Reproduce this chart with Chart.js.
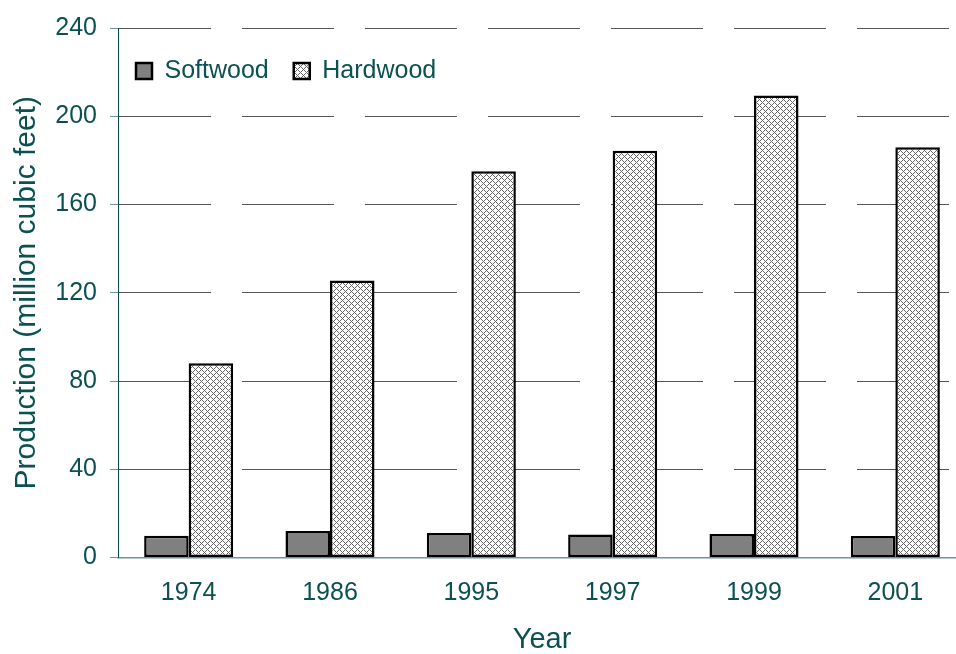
<!DOCTYPE html>
<html lang="en">
<head>
    <meta charset="UTF-8">
    <title>Softwood and hardwood production</title>
    <script src="https://cdn.jsdelivr.net/npm/chart.js"></script>
    <style>
        html, body { margin: 0; padding: 0; background: #fff; overflow: hidden; }
        canvas { display: block; }
    </style>
</head>
<body>

<!-- the plot runs a little past the right edge of the window, as in the original -->
<canvas id="chart" width="966" height="654"></canvas>

<script>
    // Values
    const years = ['1974', '1986', '1995', '1997', '1999', '2001'];
    const softwood = [9.9, 12.0, 11.1, 10.4, 10.6, 9.7];
    const hardwood = [88.1, 125.6, 175.1, 184.4, 209.4, 186.0];
    const yTicks = [0, 40, 80, 120, 160, 200, 240];

    const textColor = '#0b5151';
    const fontFamily = "'Liberation Sans', Arial, sans-serif";

    // Crosshatch fill for the hardwood bars
    function crossHatch() {
        const size = 6;
        const c = document.createElement('canvas');
        c.width = size;
        c.height = size;
        const g = c.getContext('2d');
        g.fillStyle = '#ffffff';
        g.fillRect(0, 0, size, size);
        g.fillStyle = '#666666';
        for (let x = 0; x < size; x++) {
            for (let y = 0; y < size; y++) {
                if ((x - y + size) % size === 0 || (x + y) % size === 0) g.fillRect(x, y, 1, 1);
            }
        }
        return g.createPattern(c, 'repeat');
    }

    // The legend is laid out on top (one row), then moved inside the plot
    const legendNudge = {
        id: 'legendNudge',
        afterLayout(chart) {
            const lg = chart.legend;
            lg.left = chart.chartArea.left - 7;
            lg.top = chart.chartArea.top + 5.5;
            lg.right = lg.left + lg.width;
            lg.bottom = lg.top + lg.height;
        }
    };

    const ctx = document.getElementById('chart').getContext('2d');
    new Chart(ctx, {
        type: 'bar',
        data: {
            labels: years,
            datasets: [{
                label: 'Softwood',
                data: softwood,
                backgroundColor: '#808080',
                borderColor: '#000000',
                borderWidth: 2.5,
                borderSkipped: false,
            }, {
                label: 'Hardwood',
                data: hardwood,
                backgroundColor: crossHatch(),
                borderColor: '#000000',
                borderWidth: 2.5,
                borderSkipped: false,
            }],
        },
        options: {
            responsive: false,
            animation: false,
            devicePixelRatio: 1,
            layout: {
                // legend row is 25 + 25 + 10 = 60 px tall; chart area starts at 27
                padding: { top: -33, right: 0, bottom: 0, left: 0 }
            },
            datasets: {
                bar: {
                    categoryPercentage: 0.63,
                    barPercentage: 1.0
                }
            },
            scales: {
                x: {
                    afterFit: (scale) => { scale.height = 96.5; },
                    grid: { display: false, drawTicks: false },
                    border: { color: '#6a9898', width: 1.5 },
                    ticks: {
                        color: textColor,
                        padding: 21,
                        font: { family: fontFamily, size: 25 }
                    },
                    title: {
                        display: true,
                        text: 'Year',
                        color: textColor,
                        padding: { top: 0, bottom: 0 },
                        font: { family: fontFamily, size: 29, lineHeight: 1 }
                    }
                },
                y: {
                    min: 0,
                    max: 240,
                    afterFit: (scale) => { scale.width = 118; },
                    afterBuildTicks: (scale) => {
                        scale.ticks = yTicks.map(v => ({ value: v }));
                    },
                    grid: {
                        color: '#555555',
                        lineWidth: 1,
                        tickLength: 8,
                        tickColor: '#6a9898',
                        tickBorderDash: []
                    },
                    border: { color: '#0a4a4a', width: 1, dash: [92, 31], dashOffset: 0 },
                    ticks: {
                        color: textColor,
                        padding: 13,
                        font: { family: fontFamily, size: 25 }
                    },
                    title: {
                        display: true,
                        text: 'Production (million cubic feet)',
                        color: textColor,
                        padding: { top: 12, bottom: 0 },
                        font: { family: fontFamily, size: 30, lineHeight: 1 }
                    }
                }
            },
            plugins: {
                legend: {
                    position: 'top',
                    align: 'start',
                    labels: {
                        boxWidth: 16,
                        boxHeight: 16,
                        padding: 25,
                        color: textColor,
                        font: { family: fontFamily, size: 25 }
                    }
                },
                tooltip: { enabled: false }
            }
        },
        plugins: [legendNudge]
    });
</script>
</body>
</html>
